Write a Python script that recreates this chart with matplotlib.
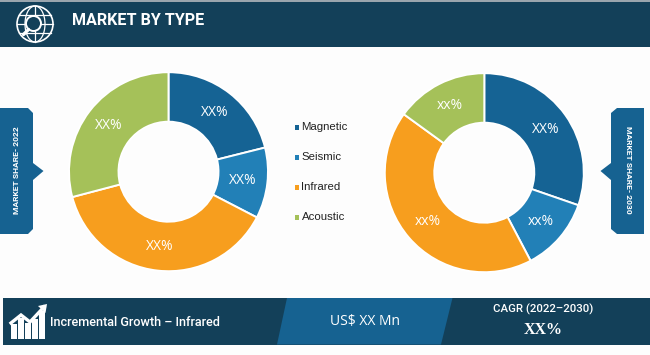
import numpy as np
import matplotlib
matplotlib.use('Agg')
import matplotlib.pyplot as plt
from matplotlib.patches import Polygon, Rectangle, Circle, Ellipse

categories = ['Magnetic', 'Seismic', 'Infrared', 'Acoustic']
share_2022 = [21.1, 11.5, 38.3, 29.1]
share_2030 = [30.3, 12.0, 42.7, 15.0]
labels_2022 = ['XX%', 'XX%', 'XX%', 'XX%']
labels_2030 = ['XX%', 'xx%', 'xx%', 'xx%']
colors = ['#156394', '#2280B7', '#F79E1E', '#A5C159']

dark = '#134059'
mid = '#166291'
H = 355
cond = ['Roboto', 'DejaVu Sans']
sans = ['Liberation Sans', 'DejaVu Sans']
noto = ['Open Sans', 'DejaVu Sans']

fig = plt.figure(figsize=(6.5, 3.55), dpi=100, facecolor='#FDFDFD')
ax = fig.add_axes([0, 0, 1, 1])
ax.set_xlim(0, 650)
ax.set_ylim(0, H)
ax.axis('off')


def poly(pts, color, z=2):
    ax.add_patch(Polygon([(x, H - y) for x, y in pts], closed=True, fc=color, ec='none', zorder=z))


def donut(vals, labs, cx, cy):
    wedges, texts = ax.pie(vals, labels=labs, colors=colors, startangle=90, counterclock=False,
                           center=(cx, H - cy), radius=99.5, labeldistance=0.755, frame=True,
                           wedgeprops=dict(width=49.5, edgecolor='white', linewidth=1.4),
                           textprops=dict(color='white', fontsize=10, family=noto))
    for t in texts:
        t.set_ha('center')
        t.set_va('center')


donut(share_2022, labels_2022, 168.5, 171.7)
donut(share_2030, labels_2030, 484.3, 172.7)
ax.set_xlim(0, 650)
ax.set_ylim(0, H)
ax.set_aspect('auto')

# header
poly([(0, 0), (650, 0), (650, 2), (0, 2)], '#9AA5AD')
poly([(0, 2), (650, 2), (650, 46.5), (0, 46.5)], dark)
ax.text(72, H - 20.5, 'MARKET BY TYPE', color='white', fontsize=11.6, fontweight='bold',
        family=cond, va='center', ha='left')

# globe + magnifier icon
gx, gy = 35, H - 24
ax.add_patch(Circle((gx, gy), 18, fc='none', ec='white', lw=1.2, zorder=3))
ax.add_patch(Ellipse((gx, gy), 20, 36, fc='none', ec='white', lw=0.9, zorder=3))
ax.plot([gx, gx], [gy - 18, gy + 18], color='white', lw=0.9, zorder=3)
for dy in (-9, 9):
    ax.plot([gx - 15.6, gx + 15.6], [gy + dy, gy + dy], color='white', lw=0.9, zorder=3)
ax.plot([gx - 18, gx + 18], [gy, gy], color='white', lw=0.9, zorder=3)
ax.add_patch(Circle((gx - 1.5, gy + 0.5), 7.5, fc=dark, ec='white', lw=1.4, zorder=4))
ax.plot([gx - 6.5, gx - 11.5], [gy - 5.5, gy - 10.5], color='white', lw=2.4, zorder=4, solid_capstyle='round')

# side tags
poly([(0, 108), (28, 108), (33, 113), (33, 163), (43.5, 171), (33, 180), (33, 229), (28, 234), (0, 234)], mid)
poly([(617, 108), (644, 108), (644, 234), (617, 234), (611, 229), (611, 180), (600.5, 171), (611, 163), (611, 113)], mid)
ax.text(17, H - 170, 'MARKET SHARE- 2022', color='white', fontsize=6.1, fontweight='bold', family=cond,
        rotation=90, ha='center', va='center')
ax.text(628, H - 170, 'MARKET SHARE- 2030', color='white', fontsize=6.1, fontweight='bold', family=cond,
        rotation=270, ha='center', va='center')

# legend
legend_y = [127, 157, 187, 217]
for name, c, y in zip(categories, colors, legend_y):
    ax.add_patch(Rectangle((294.5, H - y - 2.5), 4.5, 4.5, fc=c, ec='none', zorder=3))
    ax.text(301.5, H - y - 0.5, name, color='#222222', fontsize=8.2, family=sans, va='center', ha='left')

# footer
poly([(3, 298), (650, 298), (650, 344.5), (3, 344.5)], dark)
poly([(287, 298), (452.5, 298), (441, 344.5), (277, 344.5)], mid, z=3)
ax.text(50, H - 322, 'Incremental Growth \u2013 Infrared', color='white', fontsize=9.1, fontweight='medium',
        family=cond, va='center', ha='left', zorder=4)
ax.text(330, H - 321, 'US$ XX Mn', color='white', fontsize=10, family=noto, va='center', ha='left', zorder=4)
ax.text(543.5, H - 309.5, 'CAGR (2022\u20132030)', color='white', fontsize=8.2, fontweight='medium', family=cond,
        va='center', ha='center', zorder=4)
ax.text(543, H - 330, 'XX%', color='white', fontsize=11.5, fontweight='bold', family=['Liberation Serif', 'DejaVu Serif'],
        va='center', ha='center', zorder=4)

# growth icon
bar_x = [11, 18, 25, 32, 39]
bar_top = [324, 318, 323, 319, 311]
for bx, bt in zip(bar_x, bar_top):
    ax.add_patch(Rectangle((bx, H - 339), 5.5, 339 - bt, fc='white', ec='none', zorder=4))
line_x = [11, 21, 30, 44]
line_y = [323, 315, 322, 307]
ax.plot(line_x, [H - v for v in line_y], color='white', lw=2.4, zorder=6, solid_joinstyle='miter')
poly([(47, 304), (45.5, 313), (38, 306)], 'white', z=6)

fig.savefig('out.png', dpi=100, facecolor=fig.get_facecolor())
